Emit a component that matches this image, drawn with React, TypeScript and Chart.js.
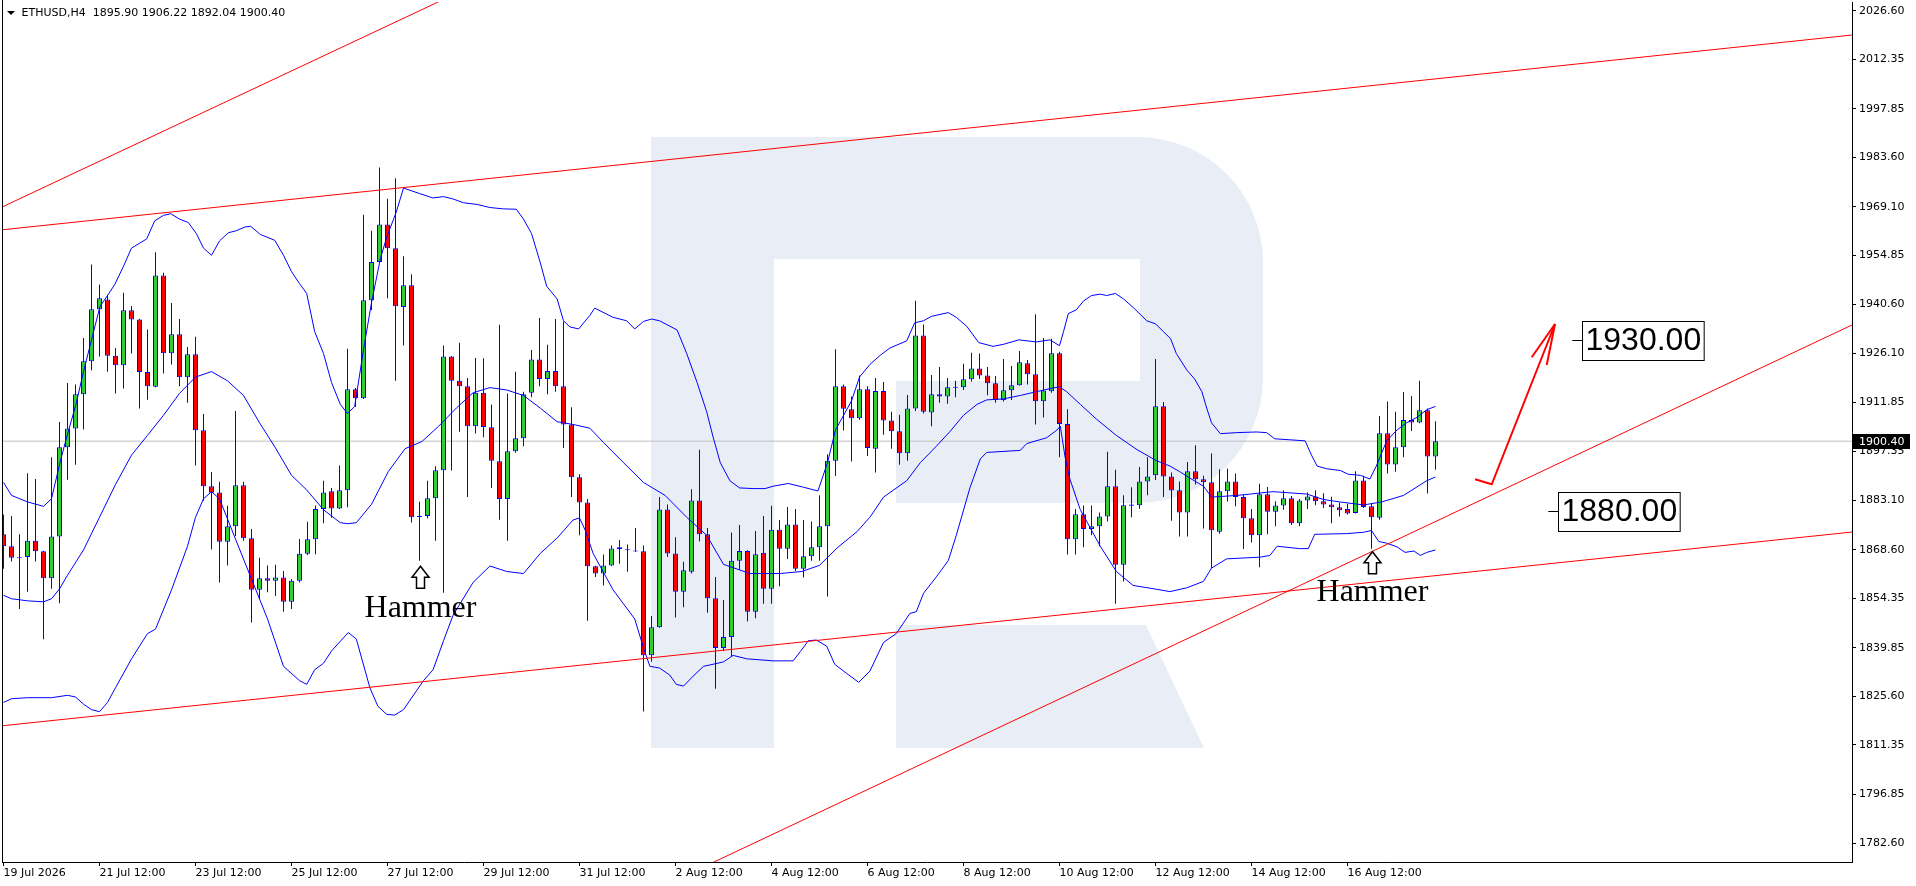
import React, { useEffect, useRef } from 'react';
import { Chart, registerables } from 'chart.js';

Chart.register(...registerables);

// ---------- data ----------
const opens = [
  1873.13, 1869.61, 1866.3, 1866.41, 1871.21, 1868.12, 1860.23, 1872.49, 1898.59, 1904.14,
  1914.15, 1923.85, 1939.09, 1941.96, 1925.45, 1922.68, 1938.77, 1936.1, 1920.65, 1916.39,
  1949.0, 1926.19, 1931.73, 1919.16, 1925.87, 1903.6, 1887.19, 1885.38, 1870.89, 1875.47,
  1887.51, 1871.95, 1856.82, 1860.23, 1859.49, 1860.45, 1853.31, 1859.49, 1867.37, 1871.63,
  1880.48, 1885.7, 1880.69, 1886.02, 1915.64, 1912.98, 1941.75, 1952.94, 1963.92, 1956.99,
  1939.73, 1946.12, 1878.35, 1878.45, 1883.68, 1891.88, 1925.23, 1918.09, 1916.5, 1904.77,
  1914.58, 1904.45, 1894.54, 1883.46, 1897.42, 1901.26, 1914.58, 1924.38, 1918.63, 1920.97,
  1916.5, 1905.31, 1889.86, 1882.4, 1863.75, 1861.62, 1863.96, 1869.29, 1868.6, 1868.25,
  1868.12, 1837.64, 1845.85, 1880.37, 1867.48, 1856.29, 1862.15, 1883.04, 1873.13, 1854.37,
  1839.77, 1842.97, 1865.35, 1868.22, 1850.43, 1867.69, 1857.14, 1874.4, 1868.86, 1876.0,
  1863.0, 1866.63, 1869.29, 1875.47, 1894.65, 1916.5, 1909.78, 1907.12, 1915.64, 1898.17,
  1915.11, 1906.48, 1903.28, 1896.89, 1910.0, 1931.41, 1908.82, 1914.15, 1913.51, 1916.25,
  1916.18, 1918.52, 1921.72, 1919.69, 1917.35, 1912.45, 1915.32, 1916.82, 1923.21, 1920.01,
  1912.13, 1915.0, 1926.19, 1905.41, 1871.63, 1878.99, 1874.62, 1875.47, 1878.35, 1887.19,
  1864.18, 1881.7, 1881.65, 1888.58, 1890.39, 1910.64, 1890.07, 1886.02, 1879.52, 1891.56,
  1889.22, 1888.36, 1873.87, 1885.7, 1888.58, 1884.0, 1877.81, 1872.81, 1884.85, 1879.73,
  1881.54, 1883.68, 1876.32, 1883.04, 1884.21, 1882.82, 1881.86, 1881.01, 1880.48, 1879.31,
  1888.9, 1881.33, 1877.92, 1902.75, 1893.59, 1898.59, 1906.59, 1905.84, 1909.46, 1895.9,
];
const highs = [
  1878.88, 1878.45, 1873.13, 1891.03, 1889.32, 1868.3, 1895.72, 1906.05, 1917.46, 1917.03,
  1930.67, 1952.19, 1946.33, 1943.35, 1927.68, 1943.88, 1940.05, 1936.3, 1933.12, 1955.82,
  1949.74, 1940.9, 1936.21, 1928.0, 1930.99, 1908.4, 1891.35, 1888.47, 1881.44, 1909.25,
  1888.47, 1874.62, 1866.2, 1863.96, 1864.18, 1862.36, 1860.0, 1871.74, 1876.75, 1881.54,
  1888.79, 1886.66, 1893.27, 1927.47, 1915.96, 1966.79, 1962.1, 1980.65, 1971.48, 1977.45,
  1954.64, 1949.32, 1882.61, 1888.79, 1893.05, 1928.43, 1925.4, 1929.28, 1918.95, 1924.81,
  1924.7, 1911.17, 1934.5, 1914.36, 1920.76, 1914.9, 1927.15, 1936.53, 1928.64, 1936.21,
  1935.46, 1910.32, 1890.71, 1883.46, 1863.9, 1867.16, 1869.82, 1871.42, 1870.14, 1874.94,
  1869.82, 1849.15, 1884.0, 1881.86, 1872.27, 1865.03, 1886.34, 1897.85, 1874.94, 1860.55,
  1853.84, 1873.66, 1875.79, 1868.4, 1874.09, 1878.45, 1881.44, 1877.28, 1881.12, 1880.48,
  1877.28, 1876.86, 1884.53, 1896.57, 1927.37, 1917.03, 1913.51, 1919.69, 1916.5, 1918.95,
  1917.77, 1909.04, 1908.18, 1913.94, 1941.54, 1934.61, 1919.8, 1922.14, 1918.95, 1918.09,
  1923.1, 1926.3, 1926.09, 1922.14, 1919.48, 1924.49, 1922.46, 1926.83, 1924.17, 1937.59,
  1930.67, 1930.45, 1926.62, 1909.78, 1880.48, 1881.54, 1881.54, 1879.52, 1897.32, 1891.99,
  1884.53, 1886.87, 1892.84, 1895.72, 1924.49, 1911.91, 1891.24, 1888.58, 1894.33, 1899.23,
  1890.28, 1896.78, 1892.2, 1892.41, 1890.92, 1884.74, 1880.48, 1887.94, 1886.98, 1882.82,
  1886.02, 1884.31, 1883.46, 1885.38, 1886.02, 1885.17, 1884.1, 1882.4, 1882.08, 1891.56,
  1890.28, 1882.08, 1907.76, 1912.02, 1909.04, 1914.79, 1913.62, 1918.09, 1910.0, 1906.22,
];
const lows = [
  1863.0, 1865.13, 1851.17, 1856.29, 1865.13, 1842.33, 1857.14, 1852.88, 1889.11, 1893.48,
  1903.82, 1921.18, 1925.23, 1920.76, 1914.36, 1915.86, 1926.09, 1910.0, 1912.55, 1916.2,
  1920.23, 1922.89, 1916.5, 1911.7, 1893.27, 1882.93, 1868.65, 1858.95, 1863.96, 1872.59,
  1871.21, 1847.23, 1854.16, 1856.08, 1855.01, 1850.43, 1851.17, 1858.95, 1867.0, 1867.26,
  1876.32, 1877.92, 1880.48, 1881.01, 1910.42, 1912.8, 1938.87, 1952.73, 1942.28, 1918.09,
  1928.43, 1876.54, 1865.35, 1877.81, 1871.21, 1855.97, 1891.77, 1903.18, 1884.0, 1902.64,
  1901.58, 1886.66, 1877.39, 1871.21, 1897.0, 1898.91, 1913.3, 1916.5, 1914.15, 1914.9,
  1898.38, 1884.0, 1872.81, 1847.76, 1860.55, 1858.1, 1863.8, 1864.49, 1862.15, 1868.0,
  1821.12, 1835.72, 1845.7, 1866.41, 1848.72, 1851.71, 1861.62, 1870.99, 1850.11, 1827.84,
  1838.92, 1837.43, 1862.68, 1847.55, 1848.51, 1852.77, 1852.77, 1857.89, 1865.88, 1862.36,
  1860.45, 1865.35, 1865.35, 1854.9, 1890.18, 1903.5, 1894.44, 1906.69, 1896.04, 1891.24,
  1902.32, 1898.17, 1893.48, 1894.65, 1909.25, 1908.5, 1904.77, 1911.7, 1911.38, 1913.3,
  1915.43, 1917.88, 1918.63, 1913.83, 1911.7, 1912.02, 1912.45, 1916.7, 1917.03, 1905.31,
  1907.33, 1914.58, 1895.72, 1867.16, 1867.16, 1869.29, 1872.81, 1869.61, 1876.86, 1852.77,
  1859.27, 1878.13, 1880.59, 1884.53, 1889.0, 1884.0, 1877.07, 1872.49, 1872.49, 1887.72,
  1874.83, 1863.22, 1873.23, 1882.72, 1881.33, 1868.76, 1870.68, 1863.43, 1873.13, 1875.47,
  1880.27, 1875.79, 1875.47, 1880.48, 1881.65, 1880.8, 1876.32, 1878.35, 1878.88, 1879.2,
  1880.8, 1868.86, 1877.39, 1890.92, 1891.45, 1895.72, 1903.39, 1905.63, 1885.06, 1892.04,
];
const closes = [
  1869.61, 1866.2, 1866.1, 1871.21, 1868.12, 1860.23, 1872.49, 1898.59, 1904.14, 1914.15,
  1923.85, 1939.09, 1942.28, 1925.45, 1922.68, 1938.77, 1936.1, 1920.65, 1916.5, 1949.0,
  1926.19, 1931.73, 1919.16, 1925.87, 1903.6, 1887.19, 1885.27, 1870.89, 1875.47, 1887.51,
  1871.95, 1856.82, 1860.23, 1859.49, 1860.45, 1853.31, 1859.49, 1867.37, 1871.63, 1880.48,
  1885.38, 1880.69, 1886.02, 1915.64, 1912.98, 1941.75, 1952.94, 1963.92, 1956.99, 1939.94,
  1946.12, 1878.13, 1878.25, 1883.68, 1891.88, 1925.23, 1918.09, 1916.5, 1904.77, 1914.58,
  1904.56, 1894.65, 1883.46, 1897.42, 1901.26, 1914.15, 1924.38, 1918.63, 1920.97, 1916.5,
  1905.31, 1889.86, 1882.4, 1863.75, 1861.62, 1863.96, 1868.97, 1868.76, 1868.5, 1868.2,
  1837.64, 1845.85, 1880.37, 1867.48, 1856.29, 1862.58, 1883.04, 1873.13, 1854.37, 1839.77,
  1842.97, 1865.35, 1868.22, 1850.43, 1867.26, 1857.14, 1874.4, 1868.86, 1876.0, 1863.0,
  1866.63, 1869.29, 1875.47, 1894.65, 1916.5, 1909.89, 1907.12, 1915.64, 1898.38, 1915.11,
  1906.48, 1903.28, 1896.89, 1910.0, 1931.41, 1909.04, 1914.15, 1913.51, 1916.18, 1916.15,
  1918.52, 1921.72, 1919.69, 1917.35, 1912.45, 1915.32, 1916.82, 1923.53, 1920.01, 1912.13,
  1915.22, 1926.19, 1905.41, 1871.63, 1878.99, 1874.62, 1875.47, 1878.35, 1887.19, 1864.18,
  1881.65, 1881.6, 1888.58, 1890.07, 1910.64, 1890.07, 1885.91, 1879.52, 1891.56, 1889.22,
  1888.36, 1874.3, 1885.7, 1888.58, 1884.0, 1877.81, 1872.81, 1884.85, 1879.73, 1881.54,
  1883.68, 1876.32, 1883.04, 1884.21, 1882.82, 1881.86, 1881.01, 1880.16, 1879.2, 1888.9,
  1881.12, 1878.13, 1902.75, 1893.59, 1898.59, 1906.59, 1905.84, 1909.46, 1895.93, 1900.4,
];

// Bollinger bands read as [bar index, value]
const bbUpper = [
  [0,1888.3],[1,1884.5],[3,1882.6],[5,1881.3],[6,1883.5],[7.06,1894.1],[7.9,1901.6],[9.06,1911.2],[10,1920.8],[12.06,1939.9],
  [13,1943.1],[13.9,1946.3],[15,1951.7],[16,1957.0],[17.9,1959.7],[18.9,1965.0],[20,1966.6],[20.9,1967.1],[22,1965.5],[23.1,1964.5],
  [24.1,1961.3],[25,1957.0],[26,1954.9],[27,1959.1],[28.1,1961.5],[29.1,1962.1],[30.2,1963.2],[30.9,1963.4],[32.1,1961.0],[33.9,1959.3],
  [35,1954.9],[36,1950.1],[37,1946.6],[37.9,1943.7],[38.9,1932.5],[40,1926.1],[41,1917.6],[42.1,1911.2],[43,1908.5],[43.9,1910.6],
  [45,1927.2],[46,1941.0],[47.1,1953.8],[47.9,1960.2],[49.1,1967.6],[50,1974.6],[52,1973.0],[53.7,1971.7],[55,1972.1],[56.2,1971.4],
  [57.5,1970.3],[59.2,1969.8],[60.8,1968.9],[62.5,1968.5],[64.1,1968.4],[65,1965.5],[66,1961.3],[67.1,1952.7],[67.9,1945.8],[69.2,1942.1],
  [70,1935.7],[70.8,1933.9],[71.9,1933.3],[73.3,1937.3],[73.9,1939.4],[76.2,1936.7],[77.9,1935.7],[78.9,1933.3],[80,1935.5],[81,1936.2],
  [82,1935.7],[84.2,1933.0],[85.4,1926.1],[86.7,1917.6],[87.9,1909.0],[88.7,1901.6],[89.6,1894.1],[90.8,1888.8],[92,1886.7],[93.7,1886.5],
  [95.2,1886.5],[96.2,1887.2],[98.1,1888.0],[100,1886.9],[101.8,1885.8],[103,1894.1],[104,1903.7],[106,1912.2],[107,1919.2],[108.3,1922.9],
  [109.6,1925.6],[110.8,1927.7],[112.9,1929.8],[113.9,1935.1],[115,1935.7],[116,1937.0],[118.1,1938.1],[119.1,1936.7],[120.4,1934.1],[121.9,1929.3],
  [123.7,1928.2],[125,1928.8],[126.9,1930.1],[129.1,1929.5],[130.8,1930.1],[132,1928.4],[132.5,1932.5],[133.1,1937.8],[134.1,1938.9],[135,1941.5],
  [136,1943.1],[137.1,1943.5],[137.9,1943.1],[139,1943.7],[140,1942.1],[141.3,1939.4],[142.9,1935.7],[144,1934.8],[145,1932.5],[145.9,1930.4],
  [146.6,1926.1],[147.9,1921.3],[148.9,1918.6],[149.8,1914.9],[150.4,1910.1],[151,1905.8],[152.1,1902.6],[154.1,1902.9],[156.6,1903.1],[157.9,1902.9],
  [158.9,1901.1],[160.8,1900.8],[162.7,1900.5],[163.5,1896.3],[164.2,1893.1],[165.4,1892.3],[167.1,1891.8],[168.1,1890.7],[169.6,1890.4],[170.8,1889.3],
  [171.6,1893.1],[172.9,1900.5],[174.2,1903.7],[175.4,1905.8],[176.7,1907.4],[177.9,1909.6],[179,1910.6],
];
const bbMiddle = [
  [0,1855.2],[1,1854.2],[3,1853.6],[5,1853.3],[6,1854.2],[7,1857.1],[8,1861.1],[10,1868.5],[12,1878.1],[14,1887.7],
  [16,1896.3],[18,1902.1],[20,1908.0],[22,1914.4],[24,1919.2],[26,1920.8],[28,1918.1],[30,1913.8],[32,1905.8],[34,1898.4],
  [36,1890.4],[37.9,1886.1],[40,1880.3],[42.1,1876.5],[43,1876.2],[44.1,1876.5],[46,1881.9],[48.1,1891.5],[50.2,1898.2],[52.3,1900.3],
  [54.4,1904.8],[56.6,1910.1],[58.7,1914.6],[60.8,1916.1],[62.9,1915.4],[65,1913.8],[67.1,1910.1],[69.2,1906.1],[71.2,1905.3],[73.3,1904.2],
  [75,1900.0],[77.5,1894.1],[80,1888.3],[82.7,1884.5],[85.4,1878.1],[87.9,1872.8],[90,1864.3],[93.3,1861.6],[97.1,1861.6],[99.8,1862.2],
  [102,1864.0],[104.2,1869.1],[106.7,1873.9],[108.3,1878.1],[110,1884.0],[112.9,1888.8],[114.6,1894.1],[116.6,1898.9],[118.3,1903.2],[120,1908.0],
  [121.7,1911.2],[122.9,1912.5],[125,1912.8],[127.1,1913.8],[129.1,1914.9],[131.2,1916.0],[132,1916.3],[132.9,1914.9],[134.6,1911.2],[136.6,1906.9],
  [139.1,1902.1],[141.7,1897.9],[144.1,1894.7],[145.8,1893.1],[147,1891.5],[148.7,1889.0],[150,1887.2],[151,1884.0],[154.2,1884.5],[158.7,1885.6],
  [162.9,1884.9],[165,1883.3],[167,1882.6],[170,1881.7],[172.3,1882.6],[175,1884.5],[177.9,1888.8],[179,1889.9],
];
const bbLower = [
  [0,1823.8],[1,1824.9],[3,1825.2],[6,1825.2],[8,1825.9],[9,1825.4],[10,1823.3],[11,1821.7],[12,1821.1],[13,1823.8],
  [14,1828.1],[16,1836.6],[18,1844.0],[19,1845.3],[21,1856.8],[23,1869.6],[24,1878.1],[25,1883.5],[26,1885.6],[27,1883.5],
  [29,1871.7],[31,1860.0],[33,1848.3],[35,1834.4],[37,1830.2],[37.9,1829.1],[38.9,1833.4],[40,1835.3],[41,1838.9],[43.1,1844.3],
  [44.1,1842.4],[45.8,1828.1],[46.8,1822.7],[47.9,1820.3],[48.9,1820.1],[50,1821.7],[52.5,1830.2],[53.7,1833.4],[55,1841.9],[56.2,1849.4],
  [58.7,1859.0],[60.8,1863.8],[62.9,1862.2],[65,1861.6],[67.1,1867.5],[69.2,1872.0],[71.2,1877.3],[72,1877.9],[72.7,1874.4],[73.7,1867.5],
  [76.2,1856.8],[78.9,1848.3],[80,1839.8],[80.8,1834.4],[82,1833.9],[83.3,1831.8],[84.1,1829.1],[85,1828.6],[86.2,1831.5],[87.5,1834.4],
  [88.7,1835.0],[90,1835.7],[91.2,1837.6],[92.9,1836.6],[96.2,1836.0],[98.7,1836.0],[99.6,1838.7],[100.6,1841.9],[101.6,1842.1],[102.9,1840.3],
  [103.9,1835.0],[105.4,1832.3],[106.9,1829.7],[108.3,1833.0],[110,1841.4],[111.6,1844.0],[113.3,1849.9],[114.1,1850.4],[115,1855.8],[116.6,1860.6],
  [118.1,1865.4],[119.1,1872.8],[120.8,1886.7],[122.1,1895.2],[122.9,1897.1],[127.1,1897.7],[127.9,1899.7],[130.4,1901.4],[131.7,1903.7],[132.1,1904.8],
  [132.7,1895.7],[133.3,1889.3],[134.6,1880.3],[137.1,1869.6],[139.1,1862.2],[141.2,1858.1],[144.1,1857.0],[145.8,1856.3],[147.9,1857.4],[150,1859.3],
  [151,1863.2],[152.9,1865.9],[157.1,1866.4],[158.3,1866.9],[159.2,1869.6],[162,1868.9],[163.1,1868.9],[163.9,1873.1],[167.9,1873.3],[170,1873.7],
  [171,1874.2],[171.9,1871.0],[172.9,1870.5],[174.2,1869.4],[175.2,1867.8],[176.3,1868.2],[177.1,1866.9],[177.9,1867.8],[179,1868.5],
];

// trend lines / forecast arrow as [bar index, price]
const lineSteep = [[-1, 1968.14], [58, 2033.2]];
const channelTop = [[-1, 1962.16], [232, 2019.7]];
const channelBottom = [[-1, 1816.76], [232, 1874.0]];
const supportRise = [[88, 1776.13], [232, 1935.5]];
const forecastPath = [[183.94, 1889.22], [186.03, 1887.75], [193.94, 1934.75]];
const forecastHeadA = [[193.94, 1934.75], [191.03, 1925.0]];
const forecastHeadB = [[193.94, 1934.75], [192.9, 1922.73]];

const xTickIndex = [0, 12, 24, 36, 48, 60, 72, 84, 96, 108, 120, 132, 144, 156, 168];
const xTickLabels = [
  '19 Jul 2026', '21 Jul 12:00', '23 Jul 12:00', '25 Jul 12:00', '27 Jul 12:00', '29 Jul 12:00',
  '31 Jul 12:00', '2 Aug 12:00', '4 Aug 12:00', '6 Aug 12:00', '8 Aug 12:00', '10 Aug 12:00',
  '12 Aug 12:00', '14 Aug 12:00', '16 Aug 12:00',
];
const yTickValues = [
  2026.6, 2012.35, 1997.85, 1983.6, 1969.1, 1954.85, 1940.6, 1926.1, 1911.85,
  1897.35, 1883.1, 1868.6, 1854.35, 1839.85, 1825.6, 1811.35, 1796.85, 1782.6,
];

const lastPrice = 1900.4;
const levelValues = [1930.0, 1880.0];
const levelIndex = [196.1, 193.1];
const hammerIndex = [52, 171];
const hammerArrowTop = [1863.74, 1868.0];
const hammerTextBase = [1848.82, 1853.63];
const headerText = 'ETHUSD,H4  1895.90 1906.22 1892.04 1900.40';

// ---------- styles ----------
const GREEN = '#32cd32';
const RED = '#ff0000';
const BLUE = '#0000ff';
const AXIS_FONT = { family: 'DejaVu Sans', size: 11 };

const toXY = (arr: number[][]) => arr.map(([x, y]) => ({ x, y }));

const idx = opens.map((_, i) => i);
const wickData = idx.map((i) => ({ x: i, y: [lows[i], highs[i]] }));
const bodyData = idx.map((i) => {
  const lo = Math.min(opens[i], closes[i]);
  const hi = Math.max(opens[i], closes[i]);
  if (hi - lo < 0.3) {
    const m = (hi + lo) / 2;
    return { x: i, y: [m - 0.15, m + 0.15] };
  }
  return { x: i, y: [lo, hi] };
});
const bodyColors = idx.map((i) =>
  closes[i] - opens[i] >= 0.3 ? GREEN : opens[i] - closes[i] >= 0.3 ? RED : BLUE
);

const redLine = (data: number[][], width = 1) => ({
  type: 'line' as const,
  data: toXY(data),
  borderColor: RED,
  borderWidth: width,
  pointRadius: 0,
  fill: false,
  tension: 0,
  order: 0,
});
const blueLine = (data: number[][]) => ({
  type: 'line' as const,
  data: toXY(data),
  borderColor: BLUE,
  borderWidth: 1,
  pointRadius: 0,
  fill: false,
  tension: 0,
  order: 1,
});

const noPad = (s: any) => {
  s.paddingTop = 0;
  s.paddingBottom = 0;
  s.paddingLeft = 0;
  s.paddingRight = 0;
};

const decorPlugin = {
  id: 'decor',
  beforeDatasetsDraw(chart: any) {
    const { ctx, chartArea } = chart;
    ctx.save();
    ctx.beginPath();
    ctx.rect(chartArea.left, chartArea.top, chartArea.right - chartArea.left, chartArea.bottom - chartArea.top);
    ctx.clip();
    // watermark "R"
    ctx.fillStyle = '#e9eef6';
    const L = 651, T = 137, R = 1263, B = 503, r = 125;
    ctx.beginPath();
    ctx.moveTo(L, T);
    ctx.lineTo(R - r, T);
    ctx.arcTo(R, T, R, T + r, r);
    ctx.lineTo(R, B - r);
    ctx.arcTo(R, B, R - r, B, r);
    ctx.lineTo(L, B);
    ctx.closePath();
    ctx.fill();
    ctx.fillRect(651, 137, 123, 611);
    ctx.fillStyle = '#ffffff';
    ctx.fillRect(774, 259, 366, 122);
    ctx.fillRect(774, 381, 122, 122);
    ctx.fillStyle = '#e9eef6';
    ctx.beginPath();
    ctx.moveTo(896, 625);
    ctx.lineTo(1146, 625);
    ctx.lineTo(1204, 748);
    ctx.lineTo(896, 748);
    ctx.closePath();
    ctx.fill();
    ctx.restore();
  },
  afterDatasetsDraw(chart: any) {
    const { ctx, scales } = chart;
    const xs = scales.x, ys = scales.y;
    ctx.save();
    // Hammer markers
    hammerIndex.forEach((k, i) => {
      const cx = Math.round(xs.getPixelForValue(k)) + 0.5;
      const top = ys.getPixelForValue(hammerArrowTop[i]);
      ctx.beginPath();
      ctx.moveTo(cx, top);
      ctx.lineTo(cx + 8.5, top + 11);
      ctx.lineTo(cx + 4, top + 11);
      ctx.lineTo(cx + 4, top + 22);
      ctx.lineTo(cx - 4, top + 22);
      ctx.lineTo(cx - 4, top + 11);
      ctx.lineTo(cx - 8.5, top + 11);
      ctx.closePath();
      ctx.fillStyle = '#ffffff';
      ctx.fill();
      ctx.strokeStyle = '#000000';
      ctx.lineWidth = 1.5;
      ctx.stroke();
      ctx.fillStyle = '#000000';
      ctx.font = '32px "Liberation Serif", "Times New Roman", serif';
      ctx.textAlign = 'center';
      ctx.textBaseline = 'alphabetic';
      ctx.fillText('Hammer', cx, ys.getPixelForValue(hammerTextBase[i]));
    });
    // level labels
    levelValues.forEach((v, i) => {
      const x0 = xs.getPixelForValue(levelIndex[i]);
      const y = Math.round(ys.getPixelForValue(v)) + 0.5;
      ctx.strokeStyle = '#000000';
      ctx.lineWidth = 1;
      ctx.beginPath();
      ctx.moveTo(x0, y);
      ctx.lineTo(x0 + 10.5, y);
      ctx.stroke();
      ctx.font = '32px "Liberation Sans", Arial, sans-serif';
      const txt = v.toFixed(2);
      const w = ctx.measureText(txt).width + 6;
      const bx = Math.round(x0 + 10) + 0.5;
      const by = Math.round(y - 20) + 0.5;
      ctx.fillStyle = '#ffffff';
      ctx.fillRect(bx, by, w, 39);
      ctx.strokeRect(bx, by, w, 39);
      ctx.fillStyle = '#000000';
      ctx.textAlign = 'left';
      ctx.textBaseline = 'middle';
      ctx.fillText(txt, bx + 3, y + 1);
    });
    ctx.restore();
  },
  afterDraw(chart: any) {
    const { ctx, chartArea, scales } = chart;
    ctx.save();
    // left frame line
    ctx.fillStyle = '#000000';
    ctx.fillRect(chartArea.left, 0, 1, chartArea.bottom);
    // header
    ctx.beginPath();
    ctx.moveTo(7, 11);
    ctx.lineTo(15, 11);
    ctx.lineTo(11, 15);
    ctx.closePath();
    ctx.fill();
    ctx.font = '11px "DejaVu Sans", sans-serif';
    ctx.textAlign = 'left';
    ctx.textBaseline = 'middle';
    ctx.fillText(headerText, 21.5, 13.5);
    // last price tag
    const y = scales.y.getPixelForValue(lastPrice);
    ctx.fillRect(chartArea.right + 1, Math.round(y - 7.5), 57, 15);
    ctx.fillStyle = '#ffffff';
    ctx.fillText(lastPrice.toFixed(2), chartArea.right + 7, y + 0.5);
    ctx.restore();
  },
};

export default function App() {
  const ref = useRef<HTMLCanvasElement>(null);
  useEffect(() => {
    document.body.style.margin = '0';
    document.body.style.background = '#ffffff';
    const chart = new Chart(ref.current as HTMLCanvasElement, {
      type: 'line',
      data: {
        datasets: [
          redLine(lineSteep),
          redLine(channelTop),
          redLine(channelBottom),
          redLine(supportRise),
          redLine(forecastPath, 2),
          redLine(forecastHeadA, 2),
          redLine(forecastHeadB, 2),
          blueLine(bbUpper),
          blueLine(bbMiddle),
          blueLine(bbLower),
          {
            type: 'bar',
            data: bodyData as any,
            backgroundColor: bodyColors,
            borderColor: BLUE,
            borderWidth: 1,
            borderSkipped: false,
            inflateAmount: 0,
            grouped: false,
            barPercentage: 1,
            categoryPercentage: 1,
            maxBarThickness: 5,
            order: 2,
          } as any,
          {
            type: 'bar',
            data: wickData as any,
            backgroundColor: BLUE,
            borderWidth: 0,
            inflateAmount: 0,
            grouped: false,
            barPercentage: 1,
            categoryPercentage: 1,
            maxBarThickness: 1,
            order: 3,
          } as any,
          {
            type: 'line',
            data: [{ x: -1, y: lastPrice }, { x: 240, y: lastPrice }],
            borderColor: '#c0c0c0',
            borderWidth: 1,
            pointRadius: 0,
            fill: false,
            order: 4,
          },
        ],
      },
      options: {
        responsive: false,
        animation: false,
        devicePixelRatio: 1,
        layout: { padding: { left: 2, top: 2, right: 0, bottom: 0 } },
        plugins: { legend: { display: false }, tooltip: { enabled: false } },
        scales: {
          x: {
            type: 'linear',
            min: -0.1875,
            max: 231.0625,
            offset: false,
            afterFit: (s: any) => { s.height = 24; noPad(s); },
            afterBuildTicks: (s: any) => { s.ticks = xTickIndex.map((v) => ({ value: v })); },
            ticks: {
              callback: (_v: any, i: number) => xTickLabels[i],
              align: 'start',
              autoSkip: false,
              maxRotation: 0,
              minRotation: 0,
              padding: 1,
              color: '#000000',
              font: AXIS_FONT,
            },
            grid: { drawOnChartArea: false, drawTicks: true, tickLength: 4, color: '#000000', offset: false },
            border: { display: true, color: '#000000' },
          },
          y: {
            type: 'linear',
            position: 'right',
            min: 1777.03,
            max: 2029.15,
            afterFit: (s: any) => { s.width = 64; noPad(s); },
            afterBuildTicks: (s: any) => { s.ticks = yTickValues.map((v) => ({ value: v })); },
            ticks: {
              callback: (v: any) => Number(v).toFixed(2),
              autoSkip: false,
              padding: 3,
              color: '#000000',
              font: AXIS_FONT,
            },
            grid: { drawOnChartArea: false, drawTicks: true, tickLength: 4, color: '#000000' },
            border: { display: true, color: '#000000' },
          },
        },
      },
      plugins: [decorPlugin],
    } as any);
    return () => chart.destroy();
  }, []);
  return (
    <div style={{ width: 1916, height: 886, background: '#ffffff' }}>
      <canvas ref={ref} width={1916} height={886} style={{ display: 'block', width: 1916, height: 886 }} />
    </div>
  );
}
